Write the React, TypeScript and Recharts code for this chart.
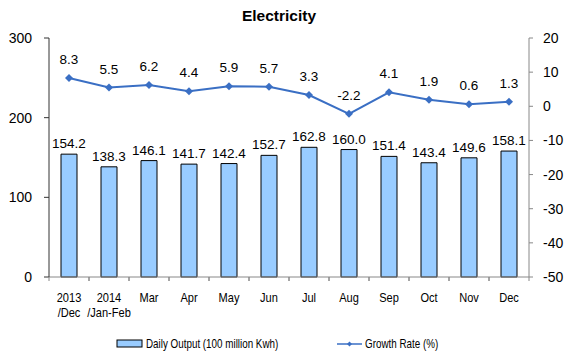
import { ComposedChart, Bar, Line, XAxis, YAxis, LabelList } from 'recharts';

const months = ['2013\n/Dec', '2014\n/Jan-Feb', 'Mar', 'Apr', 'May', 'Jun', 'Jul', 'Aug', 'Sep', 'Oct', 'Nov', 'Dec'];
const dailyOutput = [154.2, 138.3, 146.1, 141.7, 142.4, 152.7, 162.8, 160.0, 151.4, 143.4, 149.6, 158.1];
const growthRate = [8.3, 5.5, 6.2, 4.4, 5.9, 5.7, 3.3, -2.2, 4.1, 1.9, 0.6, 1.3];
const leftTicks = [0, 100, 200, 300];
const rightTicks = [-50, -40, -30, -20, -10, 0, 10, 20];

const data = months.map((m, i) => ({ month: m, output: dailyOutput[i], growth: growthRate[i] }));

const FONT = '"Liberation Sans", Arial, sans-serif';
const LINE = '#3A6FC4';

// squeeze text horizontally around x (the source uses a narrow face)
const squeeze = (x: number, k: number) => `translate(${x},0) scale(${k},1) translate(${-x},0)`;

const MonthTick = (props: any) => {
  const { x, y, payload } = props;
  const lines = String(payload.value).split('\n');
  return (
    <g>
      <line x1={x - 20} x2={x - 20} y1={y - 8} y2={y - 4} stroke="#888" />
      <line x1={x + 20} x2={x + 20} y1={y - 8} y2={y - 4} stroke="#888" />
      {lines.map((t, i) => (
        <text
          key={i}
          x={x}
          y={y + 17 + i * 15}
          textAnchor="middle"
          fontSize={13}
          fill="#000"
          fontFamily={FONT}
          transform={squeeze(x, 0.85)}
        >
          {t}
        </text>
      ))}
    </g>
  );
};

export default function App() {
  return (
    <div style={{ position: 'absolute', left: 0, top: 0, width: 570, height: 355, background: '#fff' }}>
      <ComposedChart width={570} height={355} data={data} margin={{ top: 38, right: 0, left: 0, bottom: 48 }}>
        <text x={279} y={21} textAnchor="middle" fontSize={15.5} fontWeight="bold" fontFamily={FONT} fill="#000">
          Electricity
        </text>
        <XAxis
          dataKey="month"
          height={30}
          interval={0}
          tick={<MonthTick />}
          tickLine={false}
          axisLine={{ stroke: '#888' }}
        />
        <YAxis
          yAxisId="left"
          width={49}
          domain={[0, 300]}
          ticks={leftTicks}
          tickSize={5}
          axisLine={{ stroke: '#333' }}
          tickLine={{ stroke: '#333' }}
          tick={{ fontSize: 14, fill: '#000', fontFamily: FONT, dx: -10 }}
        />
        <YAxis
          yAxisId="right"
          orientation="right"
          width={41}
          domain={[-50, 20]}
          ticks={rightTicks}
          tickSize={4}
          axisLine={{ stroke: '#888' }}
          tickLine={{ stroke: '#888' }}
          tick={{ fontSize: 14, fill: '#000', fontFamily: FONT, dx: 8 }}
        />
        <Bar
          yAxisId="left"
          dataKey="output"
          fill="#99CCFF"
          stroke="#000"
          strokeWidth={1}
          barSize={16}
          isAnimationActive={false}
        >
          <LabelList
            dataKey="output"
            position="top"
            offset={6}
            formatter={(v: any) => Number(v).toFixed(1)}
            style={{ fontSize: 13.5, fill: '#000', fontFamily: FONT }}
          />
        </Bar>
        <Line
          yAxisId="right"
          dataKey="growth"
          stroke={LINE}
          strokeWidth={2}
          isAnimationActive={false}
          dot={(p: any) => (
            <path
              key={p.index}
              d={`M${p.cx},${p.cy - 4}L${p.cx + 4},${p.cy}L${p.cx},${p.cy + 4}L${p.cx - 4},${p.cy}Z`}
              fill={LINE}
            />
          )}
        >
          <LabelList
            dataKey="growth"
            position="top"
            offset={14}
            formatter={(v: any) => Number(v).toFixed(1)}
            style={{ fontSize: 13.5, fill: '#000', fontFamily: FONT }}
          />
        </Line>
        <g fontFamily={FONT} fontSize={12} fill="#000">
          <rect x={117} y={340} width={25} height={7} fill="#99CCFF" stroke="#000" />
          <text x={146} y={348} transform={squeeze(146, 0.82)}>Daily Output (100 million Kwh)</text>
          <line x1={337} x2={362} y1={344} y2={344} stroke={LINE} strokeWidth={1.5} />
          <path d="M349.5,341.5L352,344L349.5,346.5L347,344Z" fill={LINE} />
          <text x={365} y={348} transform={squeeze(365, 0.82)}>Growth Rate (%)</text>
        </g>
      </ComposedChart>
    </div>
  );
}
